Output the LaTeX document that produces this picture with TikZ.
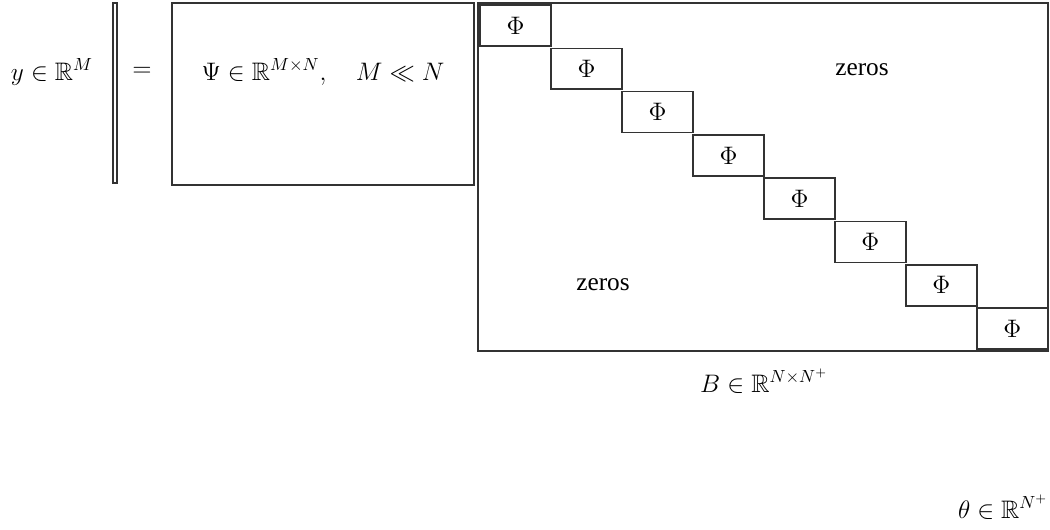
\documentclass[tikz,border=0pt]{standalone}
\usepackage{fontspec}
\setmainfont{Liberation Serif}
\usepackage{amssymb}
\usepackage{amsmath}
\usetikzlibrary{positioning}

\begin{document}
\begin{tikzpicture}[
  x=0.02cm, y=0.02cm,
  mat/.style={draw=black!80, line width=0.9pt, inner sep=0pt, outer sep=0pt},
  blk/.style={mat, minimum width=1.42cm, minimum height=0.82cm, font=\Large, anchor=north west},
  lbl/.style={font=\Large}
]
  \useasboundingbox (0,0) rectangle (1050,529);

  % left hand side: y = Psi
  \node[lbl] (ylab) at (52,457) {$y\in\mathbb{R}^M$};
  \node[mat, minimum width=0.08cm, minimum height=3.6cm] (yvec) at (115,436) {};
  \node[lbl] (eq) at (142,457) {$=$};
  \node[mat, anchor=north west, minimum width=6.04cm, minimum height=3.64cm] (Psi) at (172,526) {};
  \node[lbl] (psilab) at (323,457) {$\Psi\in\mathbb{R}^{M\times N},\quad M\ll N$};

  % block diagonal matrix B
  \node[mat, anchor=north west, minimum width=11.4cm, minimum height=6.96cm] (B) at (478,526) {};
  \node[blk] (phi1) at (480,524) {$\Phi$};
  \foreach \i [evaluate=\i as \j using int(\i+1)] in {1,...,7}
    \node[blk, yshift=-0.046cm] (phi\j) at (phi\i.south east) {$\Phi$};

  \node[lbl] (zup) at (862,459) {zeros};
  \node[lbl] (zlow) at (603,244) {zeros};

  \node[lbl] (blab) at (764,148) {$B\in\mathbb{R}^{N\times N^{+}}$};
  \node[lbl] (thetalab) at (1003,22) {$\theta\in\mathbb{R}^{N^{+}}$};
\end{tikzpicture}
\end{document}
